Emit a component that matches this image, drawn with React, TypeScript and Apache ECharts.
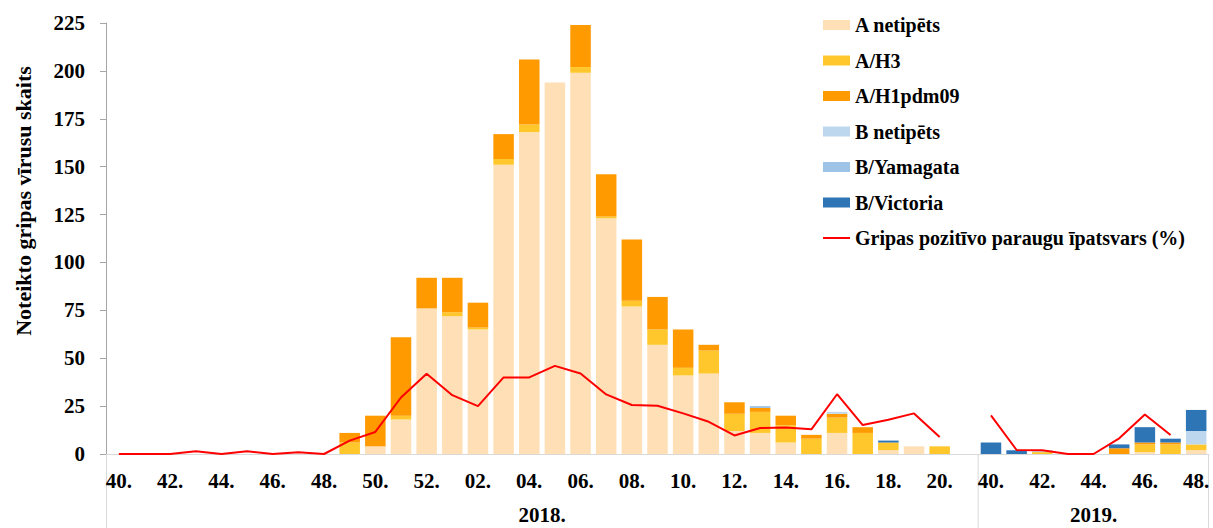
import React, { useEffect, useRef } from "react";
import * as echarts from "echarts";

const categories = [
  "2018-40", "2018-41", "2018-42", "2018-43", "2018-44", "2018-45", "2018-46", "2018-47", "2018-48", "2018-49",
  "2018-50", "2018-51", "2018-52", "2018-01", "2018-02", "2018-03", "2018-04", "2018-05", "2018-06", "2018-07",
  "2018-08", "2018-09", "2018-10", "2018-11", "2018-12", "2018-13", "2018-14", "2018-15", "2018-16", "2018-17",
  "2018-18", "2018-19", "2018-20", "2018-gap",
  "2019-40", "2019-41", "2019-42", "2019-43", "2019-44", "2019-45", "2019-46", "2019-47", "2019-48",
];

const weekLabels = [
  "40.", "41.", "42.", "43.", "44.", "45.", "46.", "47.", "48.", "49.",
  "50.", "51.", "52.", "01.", "02.", "03.", "04.", "05.", "06.", "07.",
  "08.", "09.", "10.", "11.", "12.", "13.", "14.", "15.", "16.", "17.",
  "18.", "19.", "20.", "",
  "40.", "41.", "42.", "43.", "44.", "45.", "46.", "47.", "48.",
];

const seasonLabels = ["2018.", "2019."];
const yTicks = { min: 0, max: 225, interval: 25 };

const aUntyped = [
  0, 0, 0, 0, 0, 0, 0, 0, 0, 0,
  4, 18, 76, 72, 65, 151, 168, 194, 199, 123,
  77, 57, 41, 42, 12, 11, 6, 0, 11, 0,
  2, 4, 0, 0,
  0, 0, 0, 0, 0, 0, 1, 0, 2,
];
const aH3 = [
  0, 0, 0, 0, 0, 0, 0, 0, 0, 6,
  0, 2, 0, 2, 1, 3, 4, 0, 3, 1,
  3, 8, 4, 12, 9, 11, 9, 8, 8, 11,
  4, 0, 4, 0,
  0, 0, 1, 0, 0, 0, 4, 5, 3,
];
const aH1 = [
  0, 0, 0, 0, 0, 0, 0, 0, 0, 5,
  16, 41, 16, 18, 13, 13, 34, 0, 22, 22,
  32, 17, 20, 3, 6, 2, 5, 2, 2, 3,
  0, 0, 0, 0,
  0, 0, 0, 0, 0, 3, 1, 1, 0,
];
const bUntyped = [
  0, 0, 0, 0, 0, 0, 0, 0, 0, 0,
  0, 0, 0, 0, 0, 0, 0, 0, 0, 0,
  0, 0, 0, 0, 0, 0, 0, 0, 1, 0,
  0, 0, 0, 0,
  0, 0, 1, 0, 0, 0, 0, 0, 7,
];
const bYamagata = [
  0, 0, 0, 0, 0, 0, 0, 0, 0, 0,
  0, 0, 0, 0, 0, 0, 0, 0, 0, 0,
  0, 0, 0, 0, 0, 1, 0, 0, 0, 0,
  0, 0, 0, 0,
  0, 0, 0, 0, 0, 0, 0, 0, 0,
];
const bVictoria = [
  0, 0, 0, 0, 0, 0, 0, 0, 0, 0,
  0, 0, 0, 0, 0, 0, 0, 0, 0, 0,
  0, 0, 0, 0, 0, 0, 0, 0, 0, 0,
  1, 0, 0, 0,
  6, 2, 0, 0, 0, 2, 8, 2, 11,
];
const positivity = [
  0, 0, 0, 1.4, 0, 1.4, 0, 0.9, 0, 7,
  11.5, 29.5, 41.9, 30.7, 25, 40, 40, 46, 42, 31.1,
  25.6, 25.2, 21.2, 16.8, 9.7, 13.6, 13.8, 12.9, 31.2, 15.1,
  17.9, 21.2, 8.9, null,
  20.2, 2.1, 2, 0, 0, 8.2, 20.6, 9.9, null,
];

const barSeries = [
  { name: "A netipēts", data: aUntyped, color: "#FFE0B6" },
  { name: "A/H3", data: aH3, color: "#FFC72C" },
  { name: "A/H1pdm09", data: aH1, color: "#FF9A00" },
  { name: "B netipēts", data: bUntyped, color: "#BDD7EE" },
  { name: "B/Yamagata", data: bYamagata, color: "#9DC3E6" },
  { name: "B/Victoria", data: bVictoria, color: "#2E75B6" },
];
const lineName = "Gripas pozitīvo paraugu īpatsvars (%)";

const FONT = "'Liberation Serif', 'Times New Roman', serif";

export default function App() {
  const ref = useRef<HTMLDivElement>(null);

  useEffect(() => {
    if (!ref.current) return;
    const chart = echarts.init(ref.current, undefined, { renderer: "svg" });
    const W = 1213;
    const H = 528;
    const grid = { left: 106, right: 4, top: 23, bottom: 74 };
    const plotW = W - grid.left - grid.right;
    const catW = plotW / categories.length;
    const axisY = H - grid.bottom;
    const split = categories.indexOf("2019-40");
    const sepColor = "#d9d9d9";

    const option: any = {
      animation: false,
      grid: { ...grid, containLabel: false },
      legend: {
        orient: "vertical",
        left: 817,
        top: 10,
        itemWidth: 27,
        itemHeight: 10,
        itemGap: 15.5,
        textStyle: { fontFamily: FONT, fontWeight: "bold", fontSize: 20, color: "#000" },
        data: [
          ...barSeries.map((s) => ({ name: s.name, icon: "rect" })),
          { name: lineName, itemStyle: { opacity: 0 } },
        ],
      },
      xAxis: {
        type: "category",
        data: categories,
        axisLine: { lineStyle: { color: sepColor, width: 1 } },
        axisTick: { show: false },
        axisLabel: {
          interval: 1,
          margin: 16,
          formatter: (_v: string, i: number) => weekLabels[i],
          fontFamily: FONT,
          fontWeight: "bold",
          fontSize: 21,
          color: "#000",
        },
        splitLine: { show: false },
      },
      yAxis: {
        type: "value",
        min: yTicks.min,
        max: yTicks.max,
        interval: yTicks.interval,
        axisLine: { show: true, lineStyle: { color: "#a6a6a6", width: 1 } },
        axisTick: { show: true, length: 6, lineStyle: { color: "#a6a6a6" } },
        axisLabel: {
          margin: 21,
          fontFamily: FONT,
          fontWeight: "bold",
          fontSize: 21,
          color: "#000",
        },
        splitLine: { show: false },
      },
      series: [
        ...barSeries.map((s) => ({
          name: s.name,
          type: "bar",
          stack: "viruses",
          data: s.data,
          barWidth: "80%",
          itemStyle: { color: s.color },
        })),
        {
          name: lineName,
          type: "line",
          data: positivity,
          symbol: "none",
          showSymbol: false,
          connectNulls: false,
          lineStyle: { color: "#FF0000", width: 2 },
          itemStyle: { color: "#FF0000" },
          z: 5,
        },
      ],
      graphic: [
        {
          type: "text",
          x: 23,
          y: 201,
          rotation: Math.PI / 2,
          style: {
            text: "Noteikto gripas vīrusu skaits",
            fontFamily: FONT,
            fontWeight: "bold",
            fontSize: 22,
            fill: "#000",
            textAlign: "center",
            textVerticalAlign: "middle",
          },
        },
        {
          type: "text",
          x: grid.left + (split * catW) / 2,
          y: 515,
          style: {
            text: seasonLabels[0],
            fontFamily: FONT,
            fontWeight: "bold",
            fontSize: 21,
            fill: "#000",
            textAlign: "center",
            textVerticalAlign: "middle",
          },
        },
        {
          type: "text",
          x: grid.left + split * catW + ((categories.length - split) * catW) / 2,
          y: 515,
          style: {
            text: seasonLabels[1],
            fontFamily: FONT,
            fontWeight: "bold",
            fontSize: 21,
            fill: "#000",
            textAlign: "center",
            textVerticalAlign: "middle",
          },
        },
        {
          type: "line",
          shape: { x1: grid.left + 0.5, y1: axisY, x2: grid.left + 0.5, y2: H },
          style: { stroke: sepColor, lineWidth: 1 },
        },
        {
          type: "line",
          shape: { x1: grid.left + split * catW, y1: axisY, x2: grid.left + split * catW, y2: H },
          style: { stroke: sepColor, lineWidth: 1 },
        },
        {
          type: "line",
          shape: { x1: W - grid.right - 0.5, y1: axisY, x2: W - grid.right - 0.5, y2: H },
          style: { stroke: sepColor, lineWidth: 1 },
        },
      ],
    };
    chart.setOption(option);
    return () => chart.dispose();
  }, []);

  return (
    <div
      ref={ref}
      style={{ position: "absolute", left: 0, top: 0, width: 1213, height: 528 }}
    />
  );
}
